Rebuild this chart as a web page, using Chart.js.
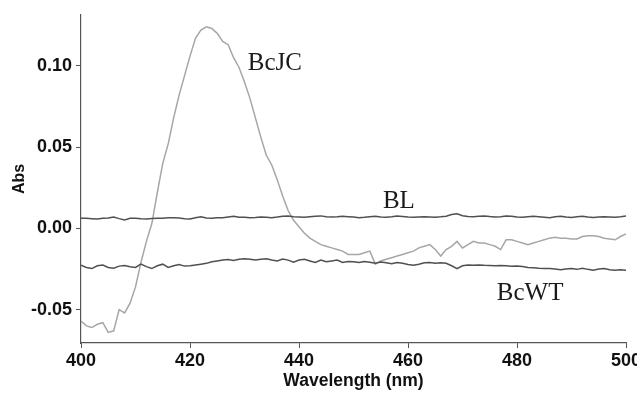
<!DOCTYPE html>
<html>
<head>
<meta charset="utf-8">
<script src="https://cdn.jsdelivr.net/npm/chart.js@4.4.1/dist/chart.umd.min.js"></script>
<style>
    html, body { margin: 0; padding: 0; background: #fff; overflow: hidden; }
    #wrap { width: 650px; height: 394px; }
</style>
</head>
<body>
<div id="wrap"><canvas id="spectra-chart" width="650" height="394"></canvas></div>
<script>
// wavelength (nm), 1 nm steps
const wavelengths = [
    400, 401, 402, 403, 404, 405, 406, 407, 408, 409,
    410, 411, 412, 413, 414, 415, 416, 417, 418, 419,
    420, 421, 422, 423, 424, 425, 426, 427, 428, 429,
    430, 431, 432, 433, 434, 435, 436, 437, 438, 439,
    440, 441, 442, 443, 444, 445, 446, 447, 448, 449,
    450, 451, 452, 453, 454, 455, 456, 457, 458, 459,
    460, 461, 462, 463, 464, 465, 466, 467, 468, 469,
    470, 471, 472, 473, 474, 475, 476, 477, 478, 479,
    480, 481, 482, 483, 484, 485, 486, 487, 488, 489,
    490, 491, 492, 493, 494, 495, 496, 497, 498, 499,
    500
];

const bcjcAbs = [
    -0.057, -0.060, -0.061, -0.059, -0.058, -0.064, -0.063, -0.050, -0.052, -0.046,
    -0.036, -0.021, -0.008, 0.003, 0.022, 0.040, 0.052, 0.068, 0.082, 0.094,
    0.106, 0.117, 0.122, 0.124, 0.123, 0.120, 0.115, 0.113, 0.105, 0.099,
    0.090, 0.080, 0.068, 0.056, 0.045, 0.039, 0.030, 0.020, 0.011, 0.005,
    0.001, -0.003, -0.006, -0.008, -0.010, -0.011, -0.012, -0.013, -0.014, -0.016,
    -0.016, -0.016, -0.015, -0.014, -0.022, -0.020, -0.019, -0.018, -0.017, -0.016,
    -0.015, -0.014, -0.012, -0.011, -0.010, -0.013, -0.017, -0.013, -0.011, -0.008,
    -0.012, -0.010, -0.008, -0.009, -0.009, -0.010, -0.011, -0.013, -0.007, -0.007,
    -0.008, -0.009, -0.010, -0.009, -0.008, -0.007, -0.006, -0.0055, -0.006, -0.006,
    -0.0065, -0.0065, -0.005, -0.0045, -0.0045, -0.005, -0.006, -0.0065, -0.007, -0.005,
    -0.0034
];

const blAbs = [
    0.0063, 0.0062, 0.0060, 0.0058, 0.0062, 0.0064, 0.0070, 0.0060, 0.0052, 0.0062,
    0.0063, 0.0060, 0.0058, 0.0061, 0.0062, 0.0063, 0.0065, 0.0066, 0.0064, 0.0060,
    0.0058, 0.0066, 0.0072, 0.0064, 0.0063, 0.0065, 0.0066, 0.0070, 0.0074, 0.0069,
    0.0068, 0.0066, 0.0067, 0.0070, 0.0068, 0.0066, 0.0070, 0.0075, 0.0076, 0.0072,
    0.0070, 0.0068, 0.0071, 0.0074, 0.0077, 0.0072, 0.0070, 0.0071, 0.0074, 0.0072,
    0.0070, 0.0066, 0.0068, 0.0072, 0.0074, 0.0070, 0.0068, 0.0071, 0.0076, 0.0073,
    0.0070, 0.0068, 0.0070, 0.0072, 0.0070, 0.0068, 0.0071, 0.0075, 0.0085, 0.0090,
    0.0078, 0.0073, 0.0071, 0.0074, 0.0077, 0.0073, 0.0070, 0.0072, 0.0076, 0.0074,
    0.0070, 0.0068, 0.0071, 0.0074, 0.0072, 0.0069, 0.0066, 0.0072, 0.0074, 0.0070,
    0.0067, 0.0071, 0.0074, 0.0070, 0.0067, 0.0070, 0.0072, 0.0070, 0.0068, 0.0071,
    0.0077
];

const bcwtAbs = [
    -0.0227, -0.0240, -0.0247, -0.0230, -0.0225, -0.0240, -0.0245, -0.0232, -0.0228, -0.0236,
    -0.0240, -0.0220, -0.0235, -0.0247, -0.0230, -0.0220, -0.0240, -0.0230, -0.0222, -0.0232,
    -0.0230, -0.0225, -0.0220, -0.0215, -0.0205, -0.0200, -0.0195, -0.0192, -0.0197, -0.0190,
    -0.0186, -0.0190, -0.0195, -0.0190, -0.0187, -0.0195, -0.0200, -0.0188, -0.0195, -0.0208,
    -0.0195, -0.0190, -0.0200, -0.0210, -0.0195, -0.0205, -0.0200, -0.0195, -0.0210, -0.0203,
    -0.0205, -0.0210, -0.0203, -0.0208, -0.0215, -0.0207, -0.0212, -0.0218, -0.0210, -0.0215,
    -0.0222, -0.0227, -0.0220, -0.0212, -0.0210, -0.0215, -0.0212, -0.0215, -0.0230, -0.0247,
    -0.0230, -0.0225, -0.0227, -0.0225, -0.0227, -0.0228, -0.0230, -0.0228, -0.0230, -0.0233,
    -0.0232, -0.0235, -0.0240, -0.0242, -0.0245, -0.0247, -0.0247, -0.0250, -0.0255, -0.0250,
    -0.0247, -0.0252, -0.0245, -0.0252, -0.0257, -0.0250, -0.0247, -0.0255, -0.0258, -0.0255,
    -0.0257
];

const xTicks = [400, 420, 440, 460, 480, 500];
const yTicks = [-0.05, 0.00, 0.05, 0.10];

// curve names written next to the traces (data coordinates of the text baseline start)
const curveLabels = [
    { text: 'BcJC', x: 430.6, y: 0.0977 },
    { text: 'BL', x: 455.4, y: 0.0126 },
    { text: 'BcWT', x: 476.3, y: -0.044 }
];

const toPoints = values => wavelengths.map((w, i) => ({ x: w, y: values[i] }));

const sansBold = size => ({ family: '"Liberation Sans", Arial, sans-serif', size: size, weight: 'bold' });

const curveLabelPlugin = {
    id: 'curveLabels',
    afterDatasetsDraw(chart) {
        const { ctx, scales } = chart;
        ctx.save();
        ctx.font = '25px "Liberation Serif", "Times New Roman", serif';
        ctx.fillStyle = '#1a1a1a';
        ctx.textAlign = 'left';
        ctx.textBaseline = 'alphabetic';
        curveLabels.forEach(l => {
            ctx.fillText(l.text, scales.x.getPixelForValue(l.x), scales.y.getPixelForValue(l.y));
        });
        ctx.restore();
    }
};

const lineStyle = color => ({
    borderColor: color,
    borderWidth: 1.5,
    pointRadius: 0,
    tension: 0,
    fill: false
});

new Chart(document.getElementById('spectra-chart'), {
    type: 'line',
    data: {
        datasets: [
            Object.assign({ label: 'BL', data: toPoints(blAbs) }, lineStyle('#505050')),
            Object.assign({ label: 'BcWT', data: toPoints(bcwtAbs) }, lineStyle('#505050')),
            Object.assign({ label: 'BcJC', data: toPoints(bcjcAbs) }, lineStyle('#a6a6a6'))
        ]
    },
    options: {
        responsive: false,
        animation: false,
        layout: { padding: { top: 12, right: 24, left: 0, bottom: 0 } },
        plugins: {
            legend: { display: false },
            tooltip: { enabled: false }
        },
        scales: {
            x: {
                type: 'linear',
                position: 'bottom',
                min: 400,
                max: 500,
                afterBuildTicks: s => { s.ticks = xTicks.map(v => ({ value: v })); },
                afterFit: s => { s.height = 51; },
                border: { display: true, color: '#555', width: 1.2 },
                grid: { drawOnChartArea: false, drawTicks: true, tickLength: 5, color: '#555' },
                ticks: { font: sansBold(18), color: '#111', padding: 2, maxRotation: 0 },
                title: {
                    display: true,
                    text: 'Wavelength (nm)',
                    font: sansBold(17.5),
                    color: '#111',
                    padding: { top: 0, bottom: 2 }
                }
            },
            y: {
                type: 'linear',
                min: -0.0705,
                max: 0.1314,
                afterBuildTicks: s => { s.ticks = yTicks.map(v => ({ value: v })); },
                afterFit: s => { s.width = 81; },
                border: { display: true, color: '#555', width: 1.2 },
                grid: { drawOnChartArea: false, drawTicks: true, tickLength: 5, color: '#555' },
                ticks: {
                    font: sansBold(18),
                    color: '#111',
                    padding: 4,
                    callback: v => v.toFixed(2)
                },
                title: {
                    display: true,
                    text: 'Abs',
                    font: sansBold(16),
                    color: '#111',
                    padding: { top: 10, bottom: 0 }
                }
            }
        }
    },
    plugins: [curveLabelPlugin]
});
</script>
</body>
</html>
